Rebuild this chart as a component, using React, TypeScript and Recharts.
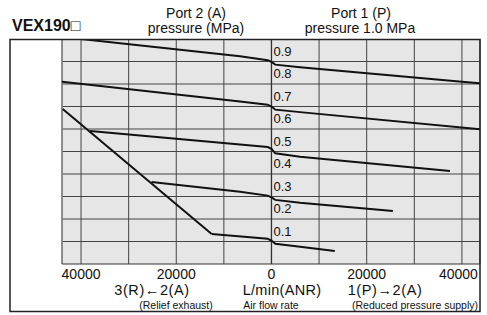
import { ComposedChart, Line, Scatter, XAxis, YAxis, CartesianGrid, ReferenceLine } from 'recharts'

// flow in L/min (negative = relief exhaust side), p in MPa
const curve09 = [
  { flow: -40000, p: 1.0 },
  { flow: -6600, p: 0.923 },
  { flow: -800, p: 0.906 },
  { flow: 0, p: 0.898 },
  { flow: 800, p: 0.886 },
  { flow: 6000, p: 0.874 },
  { flow: 40000, p: 0.81 },
  { flow: 43800, p: 0.803 },
]
const curve07 = [
  { flow: -44000, p: 0.81 },
  { flow: -6600, p: 0.722 },
  { flow: -800, p: 0.708 },
  { flow: 0, p: 0.7 },
  { flow: 800, p: 0.686 },
  { flow: 6000, p: 0.675 },
  { flow: 43800, p: 0.599 },
]
const curve05 = [
  { flow: -38100, p: 0.591 },
  { flow: -800, p: 0.52 },
  { flow: 0, p: 0.512 },
  { flow: 800, p: 0.492 },
  { flow: 6000, p: 0.477 },
  { flow: 37500, p: 0.413 },
]
const curve03 = [
  { flow: -25200, p: 0.364 },
  { flow: -6600, p: 0.321 },
  { flow: -800, p: 0.304 },
  { flow: 0, p: 0.296 },
  { flow: 800, p: 0.285 },
  { flow: 6000, p: 0.272 },
  { flow: 25500, p: 0.236 },
]
const curve01 = [
  { flow: -12560, p: 0.133 },
  { flow: -800, p: 0.112 },
  { flow: 0, p: 0.104 },
  { flow: 800, p: 0.09 },
  { flow: 6000, p: 0.077 },
  { flow: 13300, p: 0.058 },
]
const reliefLimit = [
  { flow: -43850, p: 0.689 },
  { flow: -12560, p: 0.133 },
]

const xTicks = [-40000, -30000, -20000, -10000, 0, 10000, 20000, 30000, 40000]
const yTicks = [0.1, 0.2, 0.3, 0.4, 0.5, 0.6, 0.7, 0.8, 0.9]
const pressureLabels = yTicks.map((p) => ({ flow: 0, p }))

const font = '"Liberation Sans", Arial, Helvetica, sans-serif'
const curves = [curve09, curve07, curve05, curve03, curve01, reliefLimit]

const FlowTick = (props: any) => {
  const { x, y, payload } = props
  const v = payload.value
  if (v % 20000 !== 0) return null
  const end = v === 40000
  return (
    <text x={end ? x + 16 : x} y={y + 7} textAnchor={end ? 'end' : 'middle'} fontSize={14} fill="#111" fontFamily={font}>
      {Math.abs(v)}
    </text>
  )
}

const PressureLabel = (props: any) => {
  const { cx, cy, payload } = props
  return (
    <text x={cx + 2} y={cy - 6} fontSize={13} fill="#111" fontFamily={font}>
      {payload.p.toFixed(1)}
    </text>
  )
}

export default function App() {
  return (
    <div style={{ position: 'absolute', left: 0, top: 0, width: 487, height: 315, background: '#fff' }}>
      <ComposedChart width={487} height={315} margin={{ top: 39, right: 7, bottom: 31, left: 62 }}>
        <CartesianGrid fill="#e6e6e6" stroke="#444" strokeWidth={1} horizontal={false} />
        <XAxis
          dataKey="flow"
          type="number"
          domain={[-44000, 43800]}
          ticks={xTicks}
          interval={0}
          allowDataOverflow
          tickLine={false}
          axisLine={{ stroke: '#333', strokeWidth: 1.2 }}
          tick={<FlowTick />}
          height={20}
        />
        <YAxis type="number" dataKey="p" domain={[0, 1]} hide allowDataOverflow />
        {yTicks.map((t) => (
          <ReferenceLine key={t} y={t} stroke="#444" strokeWidth={1} />
        ))}
        <ReferenceLine x={-44000} stroke="#888" strokeWidth={1.5} />
        <ReferenceLine x={0} stroke="#333" strokeWidth={1.3} />
        {curves.map((c, i) => (
          <Line
            key={i}
            data={c}
            dataKey="p"
            type="linear"
            stroke="#111"
            strokeWidth={2}
            dot={false}
            isAnimationActive={false}
          />
        ))}
        <Scatter data={pressureLabels} dataKey="p" shape={<PressureLabel />} isAnimationActive={false} />
      </ComposedChart>
      <svg width={487} height={315} style={{ position: 'absolute', left: 0, top: 0, pointerEvents: 'none' }}>
        <rect x={10} y={39.5} width={470} height={272} fill="none" stroke="#222" strokeWidth={1.5} />
        <g fontFamily={font} fill="#111">
          <text x={12} y={31} fontSize={16} fontWeight="bold">VEX190□</text>
          <text x={196} y={18} fontSize={14} textAnchor="middle">Port 2 (A)</text>
          <text x={196} y={33} fontSize={14} textAnchor="middle">pressure (MPa)</text>
          <text x={361} y={18} fontSize={14} textAnchor="middle">Port 1 (P)</text>
          <text x={360} y={33} fontSize={14} textAnchor="middle">pressure 1.0 MPa</text>
          <text x={152} y={295} fontSize={14.5} letterSpacing={0.6} textAnchor="middle">3(R)←2(A)</text>
          <text x={282} y={295} fontSize={14.5} letterSpacing={0.3} textAnchor="middle">L/min(ANR)</text>
          <text x={385} y={295} fontSize={14.5} letterSpacing={0.6} textAnchor="middle">1(P)→2(A)</text>
          <text x={176} y={308.5} fontSize={10.5} textAnchor="middle">(Relief exhaust)</text>
          <text x={271} y={308.5} fontSize={10.5} textAnchor="middle">Air flow rate</text>
          <text x={415} y={308.5} fontSize={10.5} textAnchor="middle">(Reduced pressure supply)</text>
        </g>
      </svg>
    </div>
  )
}
